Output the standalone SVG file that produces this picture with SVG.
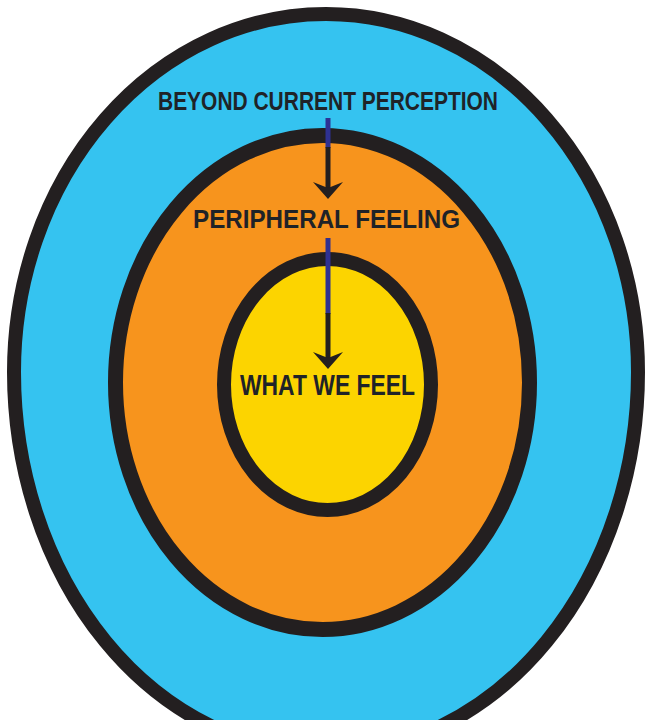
<svg xmlns="http://www.w3.org/2000/svg" width="647" height="720" viewBox="0 0 647 720">
<style>
.ring{stroke:#231f20;}
.lbl{font-family:"Liberation Sans Narrow","Liberation Sans",Arial,sans-serif;font-weight:bold;fill:#1f2328;text-anchor:middle;}
.blue{stroke:#2e3192;stroke-width:5;fill:none;}
.shaft{stroke:#231f20;stroke-width:5;fill:none;}
.head{fill:#231f20;}
</style>
<rect width="647" height="720" fill="#ffffff"/>
<g id="beyond">
<path class="ring" d="M 14 372 A 312 358 0 0 1 638 372 A 312 381 0 0 1 14 372 Z" fill="#35c3f0" stroke-width="14"/>
<text class="lbl" x="328" y="110" font-size="25" textLength="340" lengthAdjust="spacingAndGlyphs">BEYOND CURRENT PERCEPTION</text>
</g>
<g id="peripheral">
<ellipse class="ring" cx="322.5" cy="382.5" rx="207" ry="247" fill="#f7941d" stroke-width="15"/>
<text class="lbl" x="326.5" y="228" font-size="25" textLength="267" lengthAdjust="spacingAndGlyphs">PERIPHERAL FEELING</text>
</g>
<g id="what-we-feel">
<ellipse class="ring" cx="327.5" cy="384.5" rx="103.5" ry="125.5" fill="#fcd400" stroke-width="14"/>
<text class="lbl" x="327.5" y="395" font-size="30" textLength="175" lengthAdjust="spacingAndGlyphs">WHAT WE FEEL</text>
</g>
<g id="connectors">
<line class="blue" x1="328" y1="118" x2="328" y2="148"/>
<line class="shaft" x1="328" y1="147" x2="328" y2="190"/>
<polygon class="head" points="328,199 313,182 328,188 343,182"/>
<line class="blue" x1="328" y1="238" x2="328" y2="314"/>
<line class="shaft" x1="328" y1="313" x2="328" y2="360"/>
<polygon class="head" points="328,369 313,352 328,358 343,352"/>
</g>
</svg>
